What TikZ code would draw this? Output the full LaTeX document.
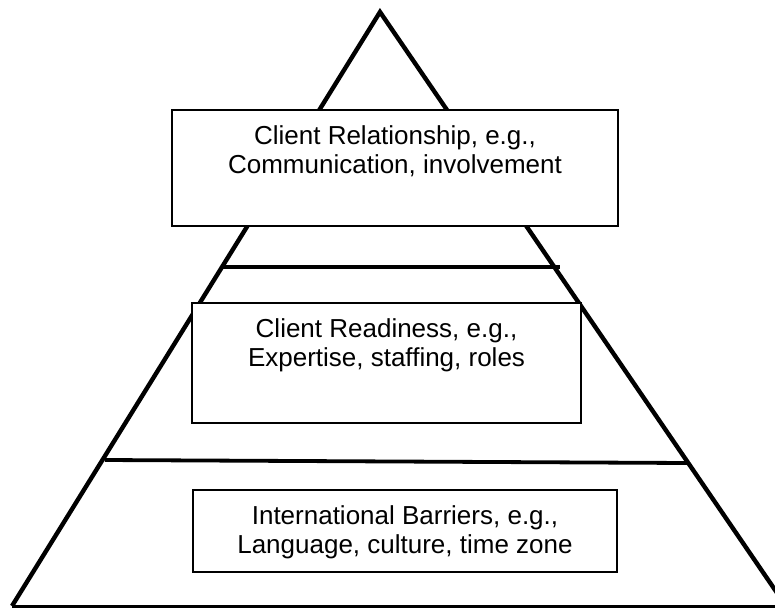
\documentclass[tikz,border=0pt]{standalone}
\usepackage{fontspec}
\setmainfont{Liberation Sans}
\begin{document}
\begin{tikzpicture}[x=1pt,y=-1pt,
  edge/.style={line width=4.4pt, line join=miter},
  band/.style={line width=3.8pt},
  basel/.style={line width=3pt},
  box/.style={draw, line width=1.7pt, fill=white, rectangle, inner sep=0pt},
  lbl/.style={font=\fontsize{26}{29}\selectfont, align=center, inner sep=0pt, anchor=north}]
\useasboundingbox (0,0) rectangle (775,608);
\clip (0,0) rectangle (775,608);
% triangle
\coordinate (apex) at (380,12);
\coordinate (bl) at (12,606);
\coordinate (br) at (786,606);
\draw[edge] (bl) -- (apex) -- (br);
\draw[basel] (bl) -- (br);
% band lines
\coordinate (l1a) at (223,267);
\coordinate (l1b) at (560,267);
\coordinate (l2a) at (105,460);
\coordinate (l2b) at (688,463);
\draw[band] (l1a) -- (l1b);
\draw[band] (l2a) -- (l2b);
% boxes
\node[box, minimum width=446pt, minimum height=116pt] (b1) at (395,168) {};
\node[box, minimum width=389pt, minimum height=120pt] (b2) at (386.5,363) {};
\node[box, minimum width=424pt, minimum height=82pt] (b3) at (405,531) {};
% labels
\node[lbl] (t1) at ([yshift=-16.5pt]b1.north) {Client Relationship, e.g.,\\Communication, involvement};
\node[lbl] (t2) at ([yshift=-16.5pt]b2.north) {Client Readiness, e.g.,\\Expertise, staffing, roles};
\node[lbl] (t3) at ([yshift=-16.5pt]b3.north) {International Barriers, e.g.,\\Language, culture, time zone};
\end{tikzpicture}
\end{document}
